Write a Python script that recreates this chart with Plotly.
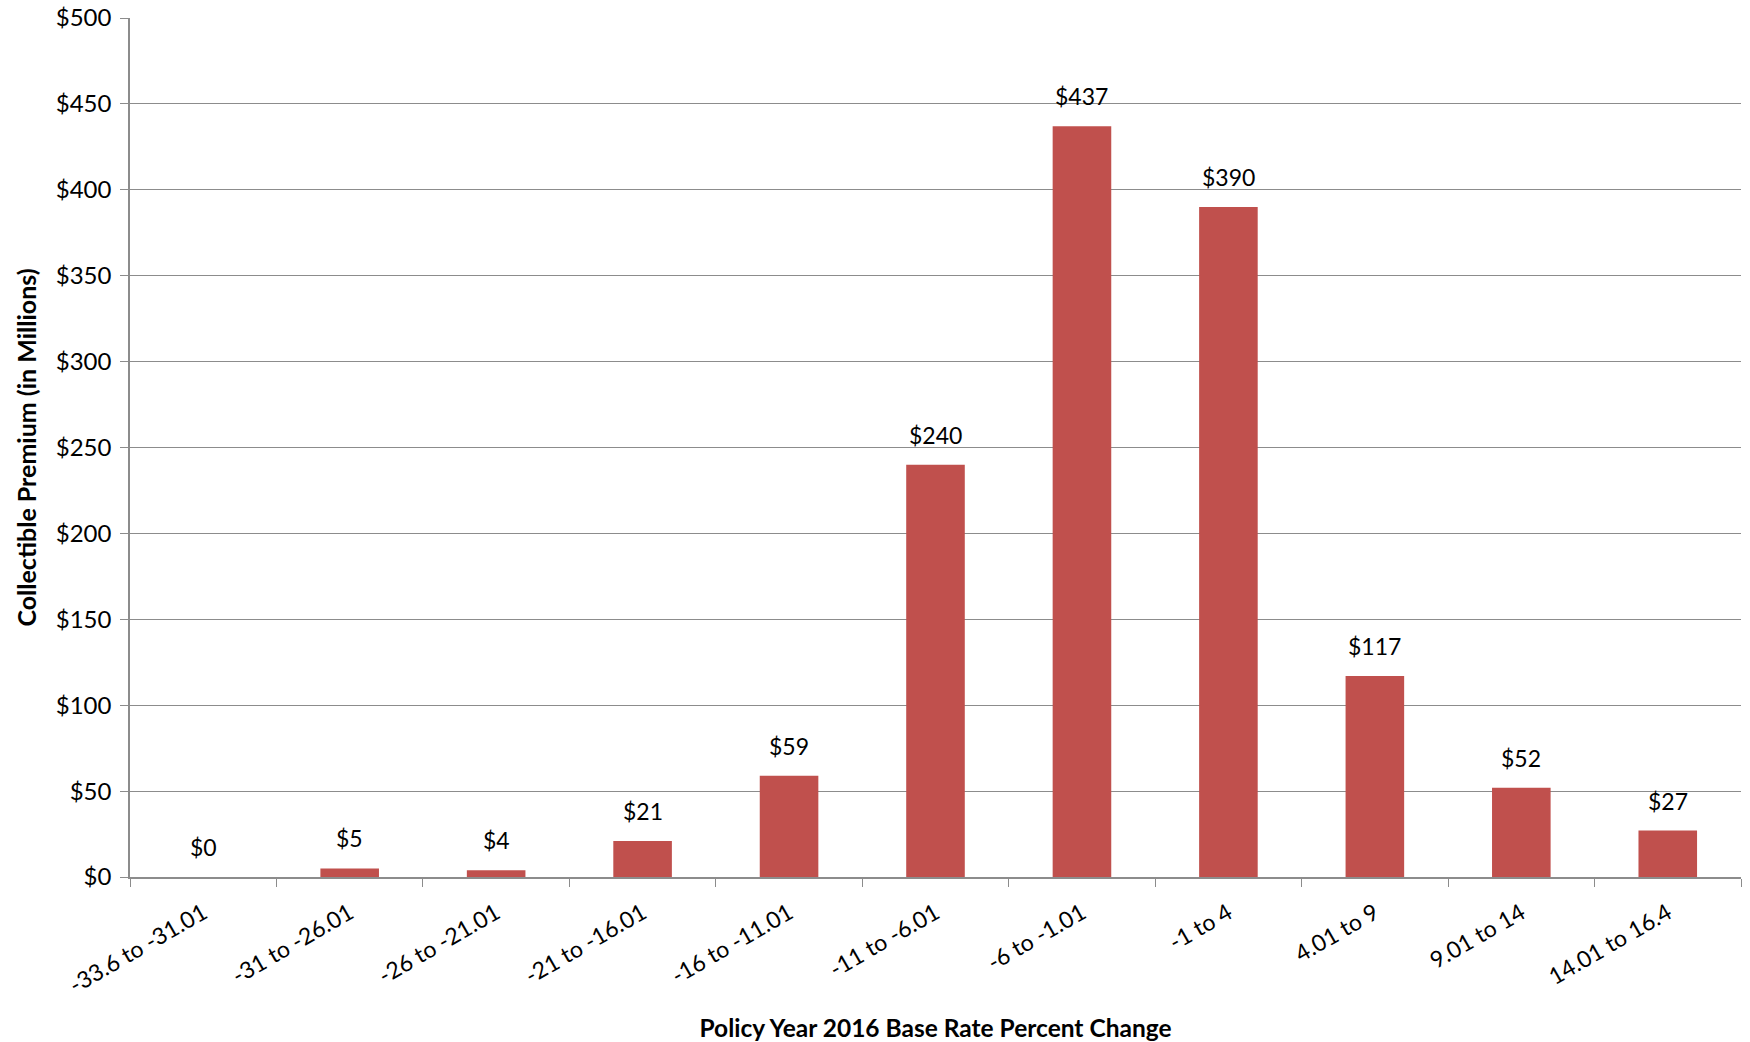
import plotly.graph_objects as go

categories = ["-33.6 to -31.01", "-31 to -26.01", "-26 to -21.01", "-21 to -16.01",
              "-16 to -11.01", "-11 to -6.01", "-6 to -1.01", "-1 to 4",
              "4.01 to 9", "9.01 to 14", "14.01 to 16.4"]
values = [0, 5, 4, 21, 59, 240, 437, 390, 117, 52, 27]
labels = ["$" + str(v) for v in values]

FONT = "Lato, Calibri, Carlito, sans-serif"
GRAY = "#8c8c8c"

fig = go.Figure(go.Bar(
    x=categories, y=values,
    marker=dict(color="#C0504D", line=dict(width=0)),
    width=0.4,
))

for c, v, t in zip(categories, values, labels):
    fig.add_annotation(x=c, y=v, text=t, showarrow=False, yanchor="bottom",
                       yshift=14, font=dict(family=FONT, size=23, color="#000000"))

fig.update_layout(
    width=1750, height=1042,
    margin=dict(l=130, r=9, t=18, b=165, autoexpand=False),
    paper_bgcolor="white", plot_bgcolor="white",
    showlegend=False,
    font=dict(family=FONT, size=22, color="#000000"),
    xaxis=dict(
        type="category", tickangle=-30, tickson="boundaries",
        ticks="outside", ticklen=8, tickcolor=GRAY,
        showline=True, linecolor=GRAY, linewidth=1.5,
        tickfont=dict(family=FONT, size=23),
        ticklabelstandoff=12,
        title=dict(text="<b>Policy Year 2016 Base Rate Percent Change</b>",
                   font=dict(family=FONT, size=24.5), standoff=24),
    ),
    yaxis=dict(
        range=[0, 500], dtick=50, tickprefix="$",
        ticks="outside", ticklen=8, tickcolor=GRAY,
        showline=True, linecolor=GRAY, linewidth=1.5,
        showgrid=True, gridcolor=GRAY, gridwidth=1.2,
        zeroline=False,
        tickfont=dict(family=FONT, size=24),
        ticklabelstandoff=4,
        title=dict(text="<b>Collectible Premium (in Millions)</b>",
                   font=dict(family=FONT, size=25), standoff=12),
    ),
)

fig.write_html("out.html", config={"displayModeBar": False},
               post_script="document.body.style.margin='0';")
